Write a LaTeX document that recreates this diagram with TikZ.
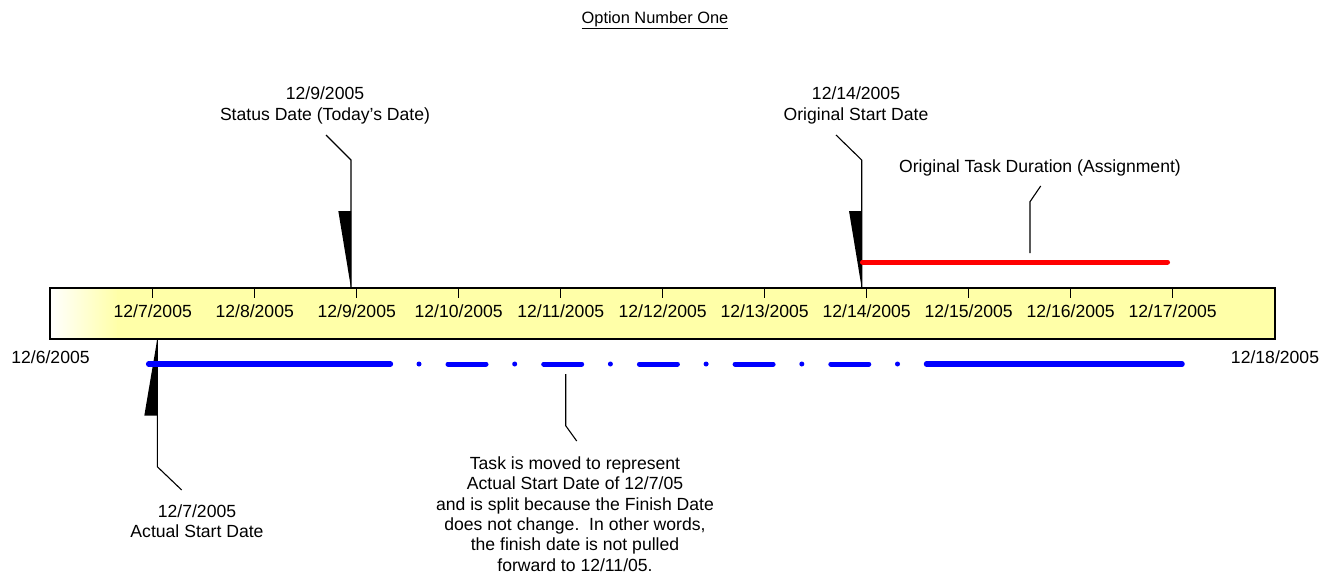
\documentclass[tikz,border=0pt]{standalone}
\usepackage{fontspec}
\setmainfont{Liberation Sans}
\usepackage{tikz}
\usetikzlibrary{calc,positioning}
\definecolor{baryellow}{HTML}{FFFFA8}
\definecolor{taskblue}{rgb}{0,0,1}
\definecolor{taskred}{rgb}{1,0,0}
\tikzset{
  every node/.style={font=\fontsize{17.6}{20.4}\selectfont, inner sep=0pt},
  callout/.style={draw=black, line width=1.1pt},
  wedge/.style={fill=black, draw=none},
  tasktrack/.style={line width=5.5pt, line cap=round}
}

\begin{document}
\begin{tikzpicture}[x=1pt,y=-1pt]
      \useasboundingbox (0,0) rectangle (1337,575);
      % Title
      \node[font=\fontsize{16.4}{19}\selectfont] (title) at (655,20) {\underline{Option Number One}};
      % Time bar
      \shade[left color=white,right color=baryellow] (50,288) rectangle (118,339);
      \fill[baryellow] (117,288) rectangle (1275,339);
      \draw[line width=1.1pt] (50,288) rectangle (1275,339);
      \foreach \d [count=\i from 0] in {7,...,17} {
        \draw[line width=0.9pt] ($(152.7,288)+(102*\i,0)$) -- ++(0,10);
        \node (d\d) at ($(152.7,311)+(102*\i,0)$) {12/\d/2005};
      }
      \node (d6) at (50.5,357) {12/6/2005};
      \node (d18) at (1275,357) {12/18/2005};
      % Status date marker
      \node[align=center] (status) at (325,105.5) {12/9/2005\\Status Date (Today's Date)};
      \coordinate (statustip) at (351,288);
      \coordinate (statusbend) at (351,160);
      \coordinate (statusfoot) at (326,135);
      \fill[wedge] (338.3,211) -- (351,211) -- (statustip) -- cycle;
      \draw[callout] (statusfoot) -- (statusbend) -- (statustip);
      % Original start marker
      \node[align=center] (origstart) at (856,105.5) {12/14/2005\\Original Start Date};
      \coordinate (origtip) at (861.7,288);
      \coordinate (origbend) at (861.7,160);
      \coordinate (origfoot) at (836,135);
      \fill[wedge] (849,211) -- (861.7,211) -- (origtip) -- cycle;
      \draw[callout] (origfoot) -- (origbend) -- (origtip);
      % Original task duration
      \coordinate (redstart) at (862.5,262);
      \coordinate (redend) at (1167.5,262);
      \draw[tasktrack,taskred,line width=5pt] (redstart) -- (redend);
      \node (duration) at (1040,168) {Original Task Duration (Assignment)};
      \draw[callout] (1040.7,186) -- (1030,201.7) -- (1030,253);
      % Actual start marker
      \node[align=center] (actual) at (197,521.5) {12/7/2005\\Actual Start Date};
      \coordinate (actualtip) at (157.3,339);
      \coordinate (actualbend) at (157.3,466.7);
      \coordinate (actualfoot) at (181.7,490);
      \fill[wedge] (144.3,415.7) -- (157.3,415.7) -- (actualtip) -- cycle;
      \draw[callout] (actualtip) -- (actualbend) -- (actualfoot);
      % Moved and split task
      \coordinate (bluestart) at (148.7,364);
      \coordinate (bluesplit) at (390.4,364);
      \coordinate (bluejoin) at (926.5,364);
      \coordinate (blueend) at (1182,364);
      \draw[tasktrack,taskblue] (bluestart) -- (bluesplit);
      \draw[tasktrack,taskblue,line width=5pt,dash pattern=on 0pt off 29pt on 38pt off 28.7pt] (419,364) -- (899,364);
      \draw[tasktrack,taskblue] (bluejoin) -- (blueend);
      \node[align=center] (splitnote) at (575,514) {Task is moved to represent\\Actual Start Date of 12/7/05\\and is split because the Finish Date\\does not change.\ \ In other words,\\the finish date is not pulled\\forward to 12/11/05.};
      \draw[callout] (565.7,374) -- (565.7,425.7) -- (576.7,441);
\end{tikzpicture}
\end{document}
